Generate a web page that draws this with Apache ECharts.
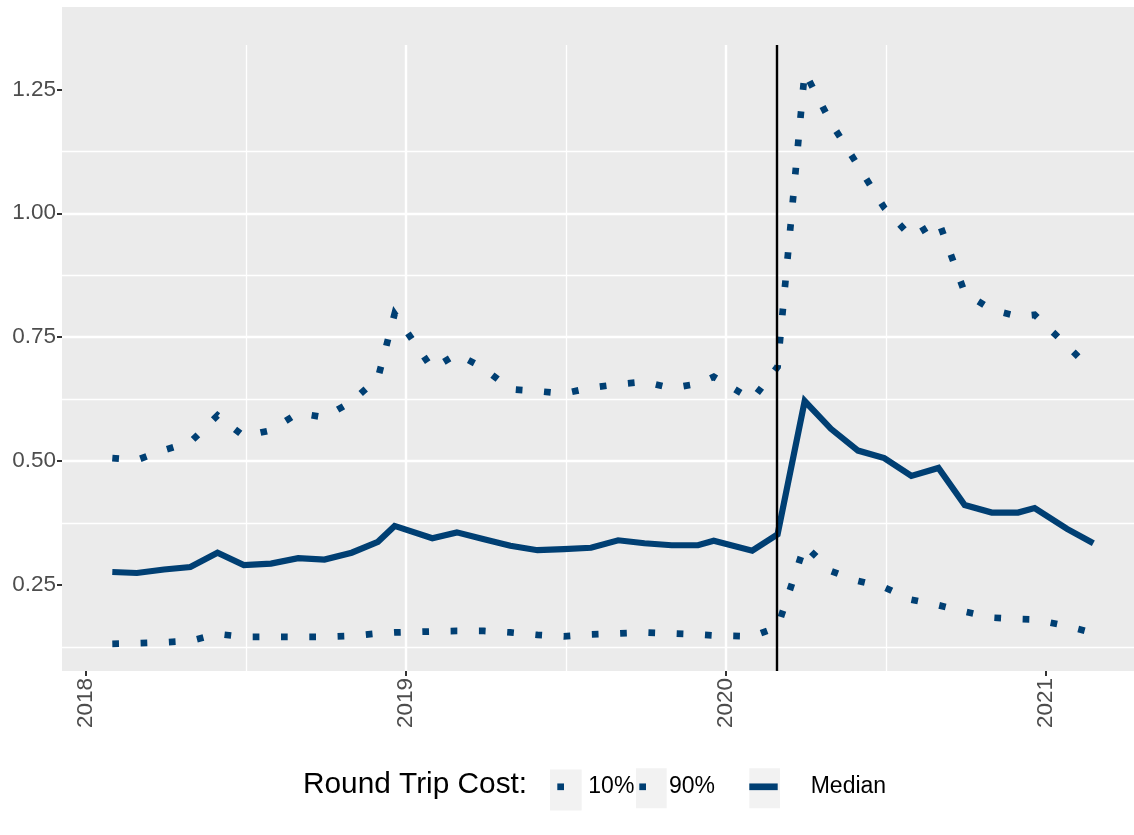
<!DOCTYPE html>
<html>
<head>
<meta charset="utf-8">
<script src="https://cdn.jsdelivr.net/npm/echarts@6/dist/echarts.min.js"></script>
<style>
  html, body { margin: 0; padding: 0; background: #ffffff; }
  #chart { width: 1134px; height: 835px; }
</style>
</head>
<body>
<div id="chart"></div>
<script>
// ---- data ----
const dates = [
  '2018-01-31','2018-02-28','2018-03-31','2018-04-30','2018-05-31','2018-06-30',
  '2018-07-31','2018-08-31','2018-09-30','2018-10-31','2018-11-30','2018-12-19',
  '2019-01-31','2019-02-28','2019-03-31','2019-04-30','2019-05-31','2019-06-30',
  '2019-07-31','2019-08-31','2019-09-30','2019-10-31','2019-11-30','2019-12-18',
  '2020-01-31','2020-02-29','2020-03-31','2020-04-30','2020-05-31','2020-06-30',
  '2020-07-31','2020-08-31','2020-09-30','2020-10-31','2020-11-30','2020-12-19',
  '2021-01-25','2021-02-24'
];
const median = [
  0.276,0.274,0.281,0.286,0.315,0.290,0.293,0.304,0.301,0.315,0.337,0.369,
  0.344,0.356,0.342,0.329,0.320,0.322,0.325,0.340,0.334,0.330,0.330,0.339,
  0.319,0.352,0.621,0.565,0.521,0.506,0.470,0.486,0.411,0.396,0.396,0.405,
  0.363,0.334
];
const p90 = [
  0.506,0.502,0.522,0.538,0.592,0.550,0.562,0.597,0.588,0.620,0.667,0.797,
  0.686,0.716,0.687,0.645,0.641,0.636,0.648,0.655,0.660,0.647,0.656,0.670,
  0.624,0.690,1.285,1.183,1.096,1.011,0.952,0.985,0.840,0.805,0.792,0.795,
  0.733,0.680
];
const p10 = [
  0.131,0.132,0.134,0.137,0.151,0.145,0.145,0.145,0.145,0.147,0.152,0.154,
  0.156,0.157,0.157,0.154,0.149,0.146,0.150,0.152,0.154,0.152,0.150,0.148,
  0.146,0.165,0.330,0.278,0.258,0.245,0.220,0.209,0.196,0.184,0.181,0.180,
  0.167,0.153
];
const eventDate = '2020-02-29';
const xTicks = [2018, 2019, 2020, 2021];
const yTicks = [0.25, 0.50, 0.75, 1.00, 1.25];
const legendTitle = 'Round Trip Cost:';
const seriesNames = ['10%', '90%', 'Median'];

// ---- helpers ----
function toYear(s) {
  const p = s.split('-').map(Number);
  const t = Date.UTC(p[0], p[1] - 1, p[2]);
  const a = Date.UTC(p[0], 0, 1), b = Date.UTC(p[0] + 1, 0, 1);
  return p[0] + (t - a) / (b - a);
}
const xs = dates.map(toYear);
const pairs = arr => arr.map((v, i) => [xs[i], v]);

const BLUE = '#003f73';
const FONT = '"Liberation Sans", Arial, Helvetica, sans-serif';
const LW = 6.7;

const chart = echarts.init(document.getElementById('chart'), null, { renderer: 'canvas' });

const legendBase = {
  orient: 'horizontal', top: 775.3, padding: 0, selectedMode: false,
  itemGap: 0, icon: 'rect'
};

chart.setOption({
  animation: false,
  backgroundColor: '#ffffff',
  textStyle: { fontFamily: FONT },
  title: {
    text: legendTitle, left: 303, top: 770, padding: 0,
    textStyle: { fontFamily: FONT, fontSize: 29.8, fontWeight: 'normal', color: '#000000' }
  },
  graphic: [
    { type: 'rect', z: -10, shape: { x: 62, y: 7, width: 1072, height: 38 }, style: { fill: '#EBEBEB' }, silent: true },
    { type: 'rect', z: -10, shape: { x: 550, y: 769.5, width: 31.7, height: 41 }, style: { fill: '#F2F2F2' }, silent: true },
    { type: 'rect', z: -10, shape: { x: 636, y: 768.3, width: 30.7, height: 40 }, style: { fill: '#F2F2F2' }, silent: true },
    { type: 'rect', z: -10, shape: { x: 749.3, y: 768.3, width: 30.7, height: 40 }, style: { fill: '#F2F2F2' }, silent: true }
  ],
  legend: [
    Object.assign({}, legendBase, {
      left: 557.3, itemWidth: LW, itemHeight: LW,
      data: [{ name: seriesNames[0], itemStyle: { color: BLUE } }],
      textStyle: { fontFamily: FONT, fontSize: 23, color: '#000', padding: [0, 0, 3, 19.3] }
    }),
    Object.assign({}, legendBase, {
      left: 639.3, itemWidth: LW, itemHeight: LW,
      data: [{ name: seriesNames[1], itemStyle: { color: BLUE } }],
      textStyle: { fontFamily: FONT, fontSize: 23, color: '#000', padding: [0, 0, 3, 18] }
    }),
    Object.assign({}, legendBase, {
      left: 749.3, itemWidth: 28.4, itemHeight: LW,
      data: [{ name: seriesNames[2], itemStyle: { color: BLUE } }],
      textStyle: { fontFamily: FONT, fontSize: 23, color: '#000', padding: [0, 0, 14.4, 28] }
    })
  ],
  grid: {
    left: 62, right: 0, top: 45, bottom: 164,
    show: true, backgroundColor: '#EBEBEB', borderWidth: 0, containLabel: false
  },
  xAxis: {
    type: 'value', min: 2017.925, max: 2021.275,
    minInterval: 1, maxInterval: 1, splitNumber: 3,
    axisLine: { show: false },
    axisTick: { show: true, length: 5, customValues: xTicks, lineStyle: { color: '#333333', width: 2 } },
    axisLabel: {
      customValues: xTicks, rotate: 90, margin: 7, fontSize: 22.5, color: '#4D4D4D', fontFamily: FONT,
      formatter: v => String(Math.round(v))
    },
    splitLine: { show: true, showMinLine: false, showMaxLine: false, lineStyle: { color: '#ffffff', width: 2.4 } },
    minorTick: { show: false, splitNumber: 2 },
    minorSplitLine: { show: true, lineStyle: { color: '#ffffff', width: 1.3 } }
  },
  yAxis: {
    type: 'value', min: 0.0762, max: 1.3396,
    minInterval: 0.25, maxInterval: 0.25, splitNumber: 5,
    axisLine: { show: false },
    axisTick: { show: true, length: 5, customValues: yTicks, lineStyle: { color: '#333333', width: 2 } },
    axisLabel: {
      customValues: yTicks, margin: 6, fontSize: 22.5, color: '#4D4D4D', fontFamily: FONT,
      formatter: v => v.toFixed(2)
    },
    splitLine: { show: true, showMinLine: false, showMaxLine: false, lineStyle: { color: '#ffffff', width: 2.4 } },
    minorTick: { show: false, splitNumber: 2 },
    minorSplitLine: { show: true, lineStyle: { color: '#ffffff', width: 1.3 } }
  },
  series: [
    {
      name: seriesNames[0], type: 'line', data: pairs(p10), showSymbol: false, symbol: 'none',
      itemStyle: { color: BLUE },
      lineStyle: { color: BLUE, width: LW, type: [LW, 21.6], cap: 'butt', join: 'miter' },
      silent: true
    },
    {
      name: seriesNames[1], type: 'line', data: pairs(p90), showSymbol: false, symbol: 'none',
      itemStyle: { color: BLUE },
      lineStyle: { color: BLUE, width: LW, type: [LW, 21.6], cap: 'butt', join: 'miter' },
      silent: true
    },
    {
      name: seriesNames[2], type: 'line', data: pairs(median), showSymbol: false, symbol: 'none',
      itemStyle: { color: BLUE },
      lineStyle: { color: BLUE, width: 6.2, type: 'solid', cap: 'butt', join: 'miter' },
      silent: true,
      markLine: {
        silent: true, symbol: 'none', label: { show: false },
        lineStyle: { color: '#000000', width: 2.4, type: 'solid' },
        data: [{ xAxis: toYear(eventDate) }]
      }
    }
  ]
});
</script>
</body>
</html>
